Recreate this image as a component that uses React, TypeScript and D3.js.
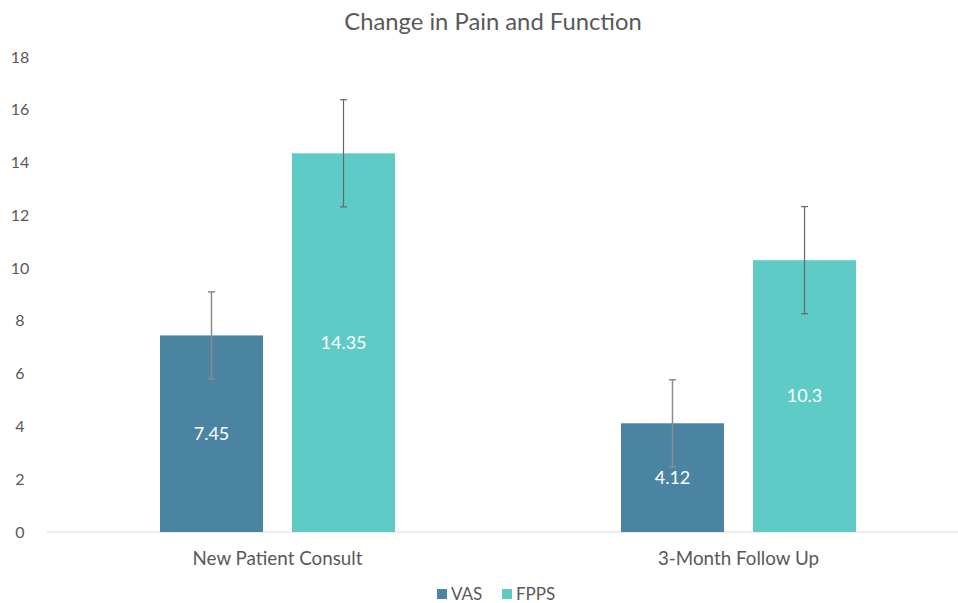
import { useRef, useEffect } from 'react';
import * as d3 from 'd3';

const categories = ['New Patient Consult', '3-Month Follow Up'];
const seriesNames = ['VAS', 'FPPS'];
const vasValues = [7.45, 4.12];
const fppsValues = [14.35, 10.3];
const vasErrors = [1.65, 1.65];
const fppsErrors = [2.03, 2.03];
const yTicks = [0, 2, 4, 6, 8, 10, 12, 14, 16, 18];
const colors = ['#4a84a2', '#5ecbc6'];

export default function App() {
  const svgRef = useRef<SVGSVGElement>(null);

  useEffect(() => {
    if (!svgRef.current) return;
    const svg = d3.select(svgRef.current);
    svg.selectAll('*').remove();
    const W = 958, H = 603;
    const font = 'Lato, "Open Sans", sans-serif';

    const x0 = d3.scaleBand().domain(categories).range([47, 969]).paddingInner(0).paddingOuter(0);
    const x1 = d3.scaleBand().domain(seriesNames).range([0, 235]).paddingInner(0.22);
    const groupOffset = (x0.bandwidth() - 235) / 2;
    const y = d3.scaleLinear().domain([0, 18]).range([532, 57]);

    svg.append('rect').attr('width', W).attr('height', H).attr('fill', '#fff');

    svg.append('text').attr('x', 493).attr('y', 30).attr('text-anchor', 'middle')
      .attr('font-family', font).attr('font-size', 23.8).attr('fill', '#595959')
      .text('Change in Pain and Function');

    // y tick labels
    svg.append('g').selectAll('text').data(yTicks).enter().append('text')
      .attr('x', 20).attr('y', d => y(d)).attr('dy', '0.35em').attr('text-anchor', 'middle')
      .attr('font-family', font).attr('font-size', 16).attr('fill', '#595959')
      .text(d => d);

    // baseline
    svg.append('line').attr('x1', 47).attr('x2', W).attr('y1', y(0)).attr('y2', y(0))
      .attr('stroke', '#d9d9d9').attr('stroke-width', 1.2);

    const rows = categories.map((c, i) => ({
      cat: c,
      items: [
        { s: 'VAS', v: vasValues[i], e: vasErrors[i], k: 0 },
        { s: 'FPPS', v: fppsValues[i], e: fppsErrors[i], k: 1 },
      ],
    }));

    const groups = svg.append('g').selectAll('g').data(rows).enter().append('g')
      .attr('transform', d => `translate(${x0(d.cat)! + groupOffset},0)`);

    groups.selectAll('rect').data(d => d.items).enter().append('rect')
      .attr('x', d => x1(d.s)!).attr('width', x1.bandwidth())
      .attr('y', d => y(d.v)).attr('height', d => y(0) - y(d.v))
      .attr('fill', d => colors[d.k]);

    groups.selectAll('text.val').data(d => d.items).enter().append('text')
      .attr('class', 'val')
      .attr('x', d => x1(d.s)! + x1.bandwidth() / 2)
      .attr('y', d => (y(d.v) + y(0)) / 2).attr('dy', '0.35em').attr('text-anchor', 'middle')
      .attr('font-family', font).attr('font-size', 18).attr('fill', '#fff')
      .text(d => d.v);

    // error bars
    const eb = groups.selectAll('g.err').data(d => d.items).enter().append('g').attr('class', 'err')
      .attr('stroke', d => d.k === 0 ? '#8c8c8c' : '#666').attr('stroke-width', d => d.k === 0 ? 1.5 : 1.2);
    const cx = (d: any) => x1(d.s)! + x1.bandwidth() / 2;
    eb.append('line').attr('x1', cx).attr('x2', cx).attr('y1', d => y(d.v + d.e)).attr('y2', d => y(d.v - d.e));
    eb.append('line').attr('x1', d => cx(d) - 3.5).attr('x2', d => cx(d) + 3.5).attr('y1', d => y(d.v + d.e)).attr('y2', d => y(d.v + d.e));
    eb.append('line').attr('x1', d => cx(d) - 3.5).attr('x2', d => cx(d) + 3.5).attr('y1', d => y(d.v - d.e)).attr('y2', d => y(d.v - d.e));

    // category labels
    svg.append('g').selectAll('text').data(categories).enter().append('text')
      .attr('x', d => x0(d)! + x0.bandwidth() / 2).attr('y', 565).attr('text-anchor', 'middle')
      .attr('font-family', font).attr('font-size', 18.8).attr('fill', '#595959')
      .text(d => d);

    // legend
    const legendX = [437, 502];
    const lg = svg.append('g').selectAll('g').data(seriesNames).enter().append('g')
      .attr('transform', (_, i) => `translate(${legendX[i]},589)`);
    lg.append('rect').attr('width', 10).attr('height', 10).attr('fill', (_, i) => colors[i]);
    lg.append('text').attr('x', 14).attr('y', 5).attr('dy', '0.35em')
      .attr('font-family', font).attr('font-size', 17).attr('fill', '#595959')
      .text(d => d);
  }, []);

  return (
    <svg ref={svgRef} width={958} height={603} style={{ position: 'absolute', left: 0, top: 0 }} />
  );
}
